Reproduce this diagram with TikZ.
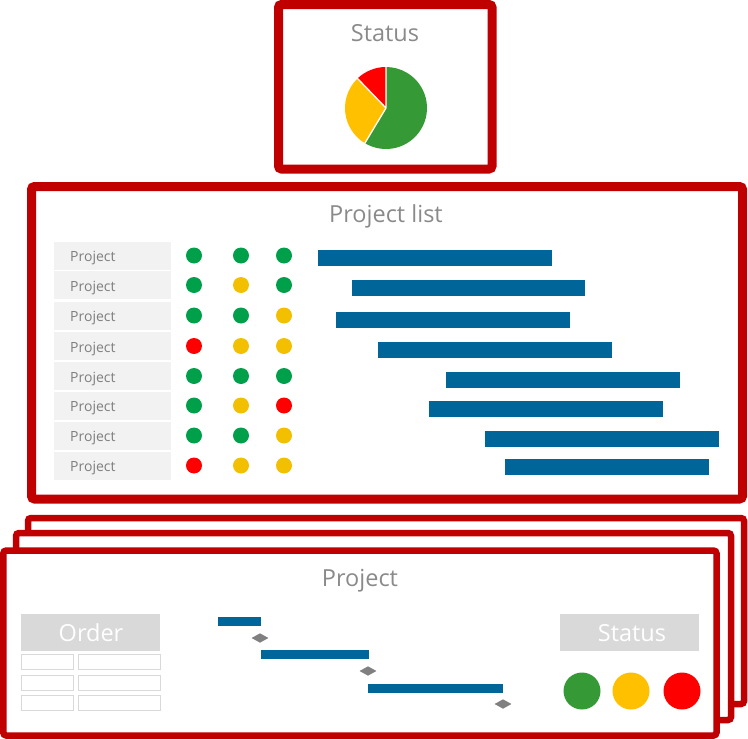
\documentclass[tikz,border=0pt]{standalone}
\usepackage{fontspec}
\setmainfont{Open Sans}
\usetikzlibrary{shapes.geometric}
\definecolor{boxred}{HTML}{C00000}
\definecolor{titlegray}{HTML}{8A8A8A}
\definecolor{rowgray}{HTML}{7F7F7F}
\definecolor{rowfill}{HTML}{F2F2F2}
\definecolor{hdrgray}{HTML}{D9D9D9}
\definecolor{lgreen}{HTML}{00A04B}
\definecolor{lyellow}{HTML}{F2C000}
\definecolor{lred}{HTML}{FF0000}
\definecolor{pgreen}{HTML}{359A35}
\definecolor{pyellow}{HTML}{FFC000}
\definecolor{pred}{HTML}{FF0000}
\definecolor{barblue}{HTML}{006699}
\definecolor{msgray}{HTML}{808080}
\colorlet{G}{lgreen}
\colorlet{Y}{lyellow}
\colorlet{R}{lred}
\begin{document}
\begin{tikzpicture}[x=1pt,y=-1pt,
  bigframe/.style={draw=boxred,line width=9pt,rounded corners=3pt},
  smallframe/.style={draw=boxred,line width=6.5pt,rounded corners=3pt,fill=white},
  titletext/.style={text=titlegray,font=\fontsize{23.5}{28}\selectfont,inner sep=0pt,anchor=base},
  rowbox/.style={fill=rowfill,minimum width=117pt,minimum height=28pt,inner sep=0pt},
  rowtext/.style={text=rowgray,font=\fontsize{14}{17}\selectfont,inner sep=0pt,anchor=base west},
  hdrbox/.style={fill=hdrgray,minimum width=139pt,minimum height=37pt,inner sep=0pt},
  hdrtext/.style={text=white,font=\fontsize{23.5}{28}\selectfont,inner sep=0pt,anchor=base},
  cellbox/.style={draw=hdrgray,line width=1pt},
  bar/.style={fill=barblue},
  milestone/.style={diamond,fill=msgray,minimum width=17pt,minimum height=9.5pt,inner sep=0pt}
]
\useasboundingbox (0,0) rectangle (748,739);

% ---------- Status box ----------
\draw[bigframe] (278.5,4.5) rectangle (492,169);
\node[titletext] (statustitle) at (385,41) {Status};
\coordinate (pc) at (386,108);
\fill[pgreen] (pc) -- +(-239:41) arc[start angle=-239,end angle=-450,radius=41] -- cycle;
\fill[pyellow] (pc) -- +(-134:41) arc[start angle=-134,end angle=-239,radius=41] -- cycle;
\fill[pred] (pc) -- +(-90:41) arc[start angle=-90,end angle=-134,radius=41] -- cycle;
\draw[white,line width=1.3pt] (pc) -- +(-90:41.5) (pc) -- +(-134:41.5) (pc) -- +(-239:41.5);

% ---------- Project list box ----------
\draw[bigframe] (31.5,186.5) rectangle (742.5,499);
\node[titletext] (listtitle) at (386,222) {Project list};
\foreach \yc/\ca/\cb/\cc/\xa/\xb/\yb [count=\i] in {
  255.5/G/G/G/318/552/258,
  285/G/Y/G/352/585/287.5,
  315.5/G/G/Y/336/570/320,
  346/R/Y/Y/378/612/350,
  376/G/G/G/446/680/380,
  405.5/G/Y/R/429/663/409,
  435.5/G/G/Y/485/719/439,
  465.5/R/Y/Y/505/709/467}{
  \node[rowbox] (lbl\i) at (112.5,\yc) {};
  \node[rowtext] (txt\i) at (70,\yc+6) {Project};
  \fill[\ca] (194,\yc) circle[radius=8];
  \fill[\cb] (241,\yc) circle[radius=8];
  \fill[\cc] (284,\yc) circle[radius=8];
  \fill[bar] (\xa,\yb-8) rectangle (\xb,\yb+8);
}

% ---------- Stacked project boxes ----------
\draw[smallframe] (28,518) rectangle (744,704);
\draw[smallframe] (16,533) rectangle (731,720);
\draw[smallframe] (3.25,550.5) rectangle (716.5,735.5);
\node[titletext] (projtitle) at (360,586) {Project};

% Order table
\node[hdrbox] (orderhdr) at (90.5,632.5) {};
\node[hdrtext] (ordertext) at (91,641) {Order};
\foreach \ya in {654.5,675,695}{
  \draw[cellbox] (21.5,\ya) rectangle (73.5,\ya+15);
  \draw[cellbox] (78.5,\ya) rectangle (160.5,\ya+15);
}

% Gantt
\fill[bar] (218,617) rectangle (261,625.5);
\fill[bar] (261,650) rectangle (369,658.5);
\fill[bar] (368,684) rectangle (503,692.5);
\node[milestone] (m1) at (260,638) {};
\node[milestone] (m2) at (368,671) {};
\node[milestone] (m3) at (503,704) {};

% Status header and lights
\node[hdrbox] (statushdr) at (629.5,632.5) {};
\node[hdrtext] (statustext) at (632,641) {Status};
\fill[pgreen] (582,691) circle[radius=18.5];
\fill[pyellow] (631,691) circle[radius=18.5];
\fill[pred] (682,691) circle[radius=18.5];
\end{tikzpicture}
\end{document}
